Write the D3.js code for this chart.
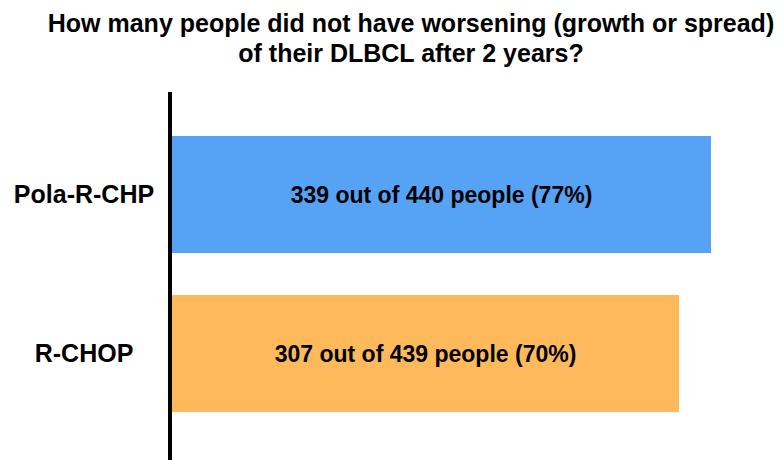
<!DOCTYPE html>
<html>
<head>
<meta charset="utf-8">
<script src="https://cdn.jsdelivr.net/npm/d3@7"></script>
<style>
  html, body { margin: 0; padding: 0; background: #fff; }
  svg { display: block; font-family: Arial, "Liberation Sans", sans-serif; }
</style>
</head>
<body>
<svg id="chart" width="783" height="460"></svg>
<script>
const titleLines = ["How many people did not have worsening (growth or spread)", "of their DLBCL after 2 years?"];
const categories = ["Pola-R-CHP", "R-CHOP"];
const percents = [77, 70];
const counts = [339, 307];
const totals = [440, 439];
const colors = ["#56A3F5", "#FEB95A"];

const svg = d3.select("#chart");
const W = 783, H = 460;

const x = d3.scaleLinear().domain([-41, 77]).range([172, 711]);
const y = d3.scaleBand().domain(categories).range([115, 433]).paddingInner(0.264).paddingOuter(0.132);

// title
svg.append("g").selectAll("text").data(titleLines).join("text")
  .attr("x", 411)
  .attr("y", (d, i) => 32 + i * 30)
  .attr("text-anchor", "middle")
  .attr("font-size", "25px")
  .attr("font-weight", "bold")
  .attr("fill", "#000")
  .text(d => d);

const data = categories.map((c, i) => ({ c, p: percents[i], n: counts[i], t: totals[i], col: colors[i] }));

// bars
svg.append("g").selectAll("rect").data(data).join("rect")
  .attr("x", x(x.domain()[0]))
  .attr("y", d => y(d.c))
  .attr("width", d => x(d.p) - x(x.domain()[0]))
  .attr("height", y.bandwidth())
  .attr("fill", d => d.col);

// bar labels
svg.append("g").selectAll("text").data(data).join("text")
  .attr("x", d => (x(x.domain()[0]) + x(d.p)) / 2)
  .attr("y", d => y(d.c) + y.bandwidth() / 2 + 8)
  .attr("text-anchor", "middle")
  .attr("font-size", "23px")
  .attr("font-weight", "bold")
  .attr("fill", "#000")
  .text(d => `${d.n} out of ${d.t} people (${d.p}%)`);

// category axis
const yAxis = svg.append("g").attr("transform", "translate(170,0)")
  .call(d3.axisLeft(y).tickSize(0).tickPadding(0));
yAxis.select(".domain").remove();
yAxis.selectAll("text")
  .attr("x", -86)
  .attr("dy", "0.35em")
  .attr("text-anchor", "middle")
  .attr("font-size", "25px")
  .attr("font-weight", "bold")
  .attr("font-family", "Arial, 'Liberation Sans', sans-serif")
  .attr("fill", "#000");

svg.append("line")
  .attr("x1", 170).attr("x2", 170)
  .attr("y1", 92).attr("y2", H)
  .attr("stroke", "#000")
  .attr("stroke-width", 4);
</script>
</body>
</html>
